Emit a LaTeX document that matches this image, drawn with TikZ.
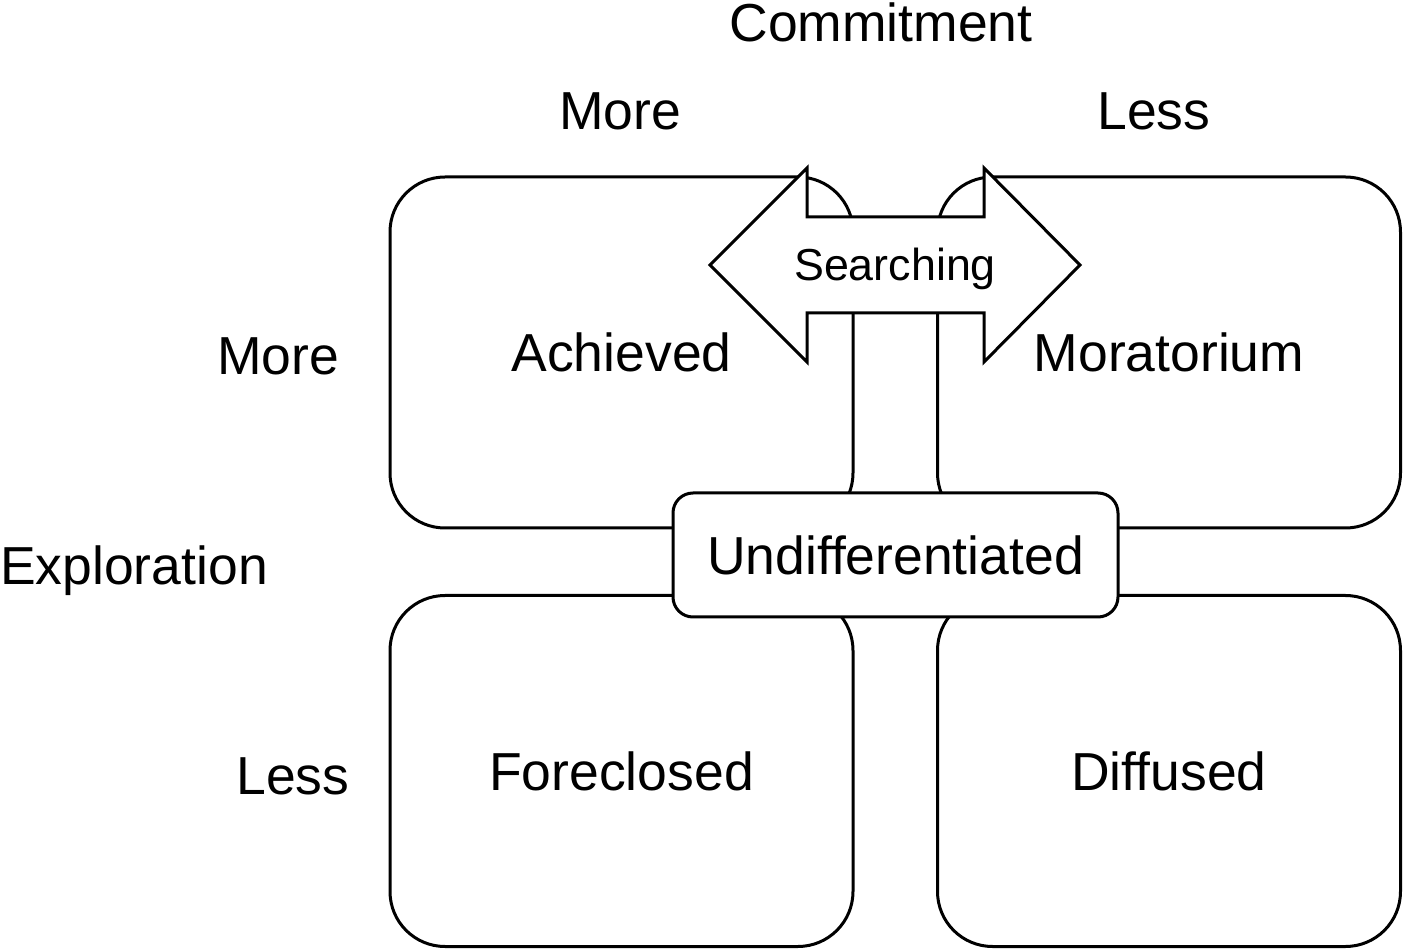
\documentclass[tikz,border=0pt]{standalone}
\usepackage{fontspec}
\setmainfont{Liberation Sans}
\usepackage{tikz}

\begin{document}
\begin{tikzpicture}[x=0.5pt,y=-0.5pt,
  big/.style={font=\fontsize{26.75}{32}\selectfont, text height=19.2pt, text depth=0pt, inner sep=0pt},
  small/.style={font=\fontsize{22.4}{27}\selectfont, text height=16pt, text depth=0pt, inner sep=0pt},
  quad/.style={big, draw, fill=white, line width=1.5pt, rounded corners=27.5pt, minimum width=231.5pt, minimum height=175.5pt},
  undiff/.style={big, draw, fill=white, line width=1.5pt, rounded corners=10pt, minimum width=222.5pt, minimum height=62pt}]
\useasboundingbox (0,0) rectangle (1405,952);

% axis labels
\node[big] (commit) at (881,22) {Commitment};
\node[big] (cmore) at (620,110) {More};
\node[big] (cless) at (1154,110) {Less};
\node[big] (emore) at (278,355) {More};
\node[big] (explor) at (134,565) {Exploration};
\node[big] (eless) at (293,775) {Less};

% the four statuses
\node[quad] (achieved) at (621.5,352.5) {Achieved};
\node[quad] (moratorium) at (1169,352.5) {Moratorium};
\node[quad] (foreclosed) at (621.5,771) {Foreclosed};
\node[quad] (diffused) at (1169,771) {Diffused};

% searching arrow
\draw[line width=1.5pt, fill=white] (710,265) -- (807,168) -- (807,217) -- (984,217) -- (984,168)
  -- (1080,265) -- (984,362) -- (984,313) -- (807,313) -- (807,362) -- cycle;
\node[small] (search) at (895,265) {Searching};

\node[undiff] (undiffbox) at (895.5,555) {Undifferentiated};
\end{tikzpicture}
\end{document}
